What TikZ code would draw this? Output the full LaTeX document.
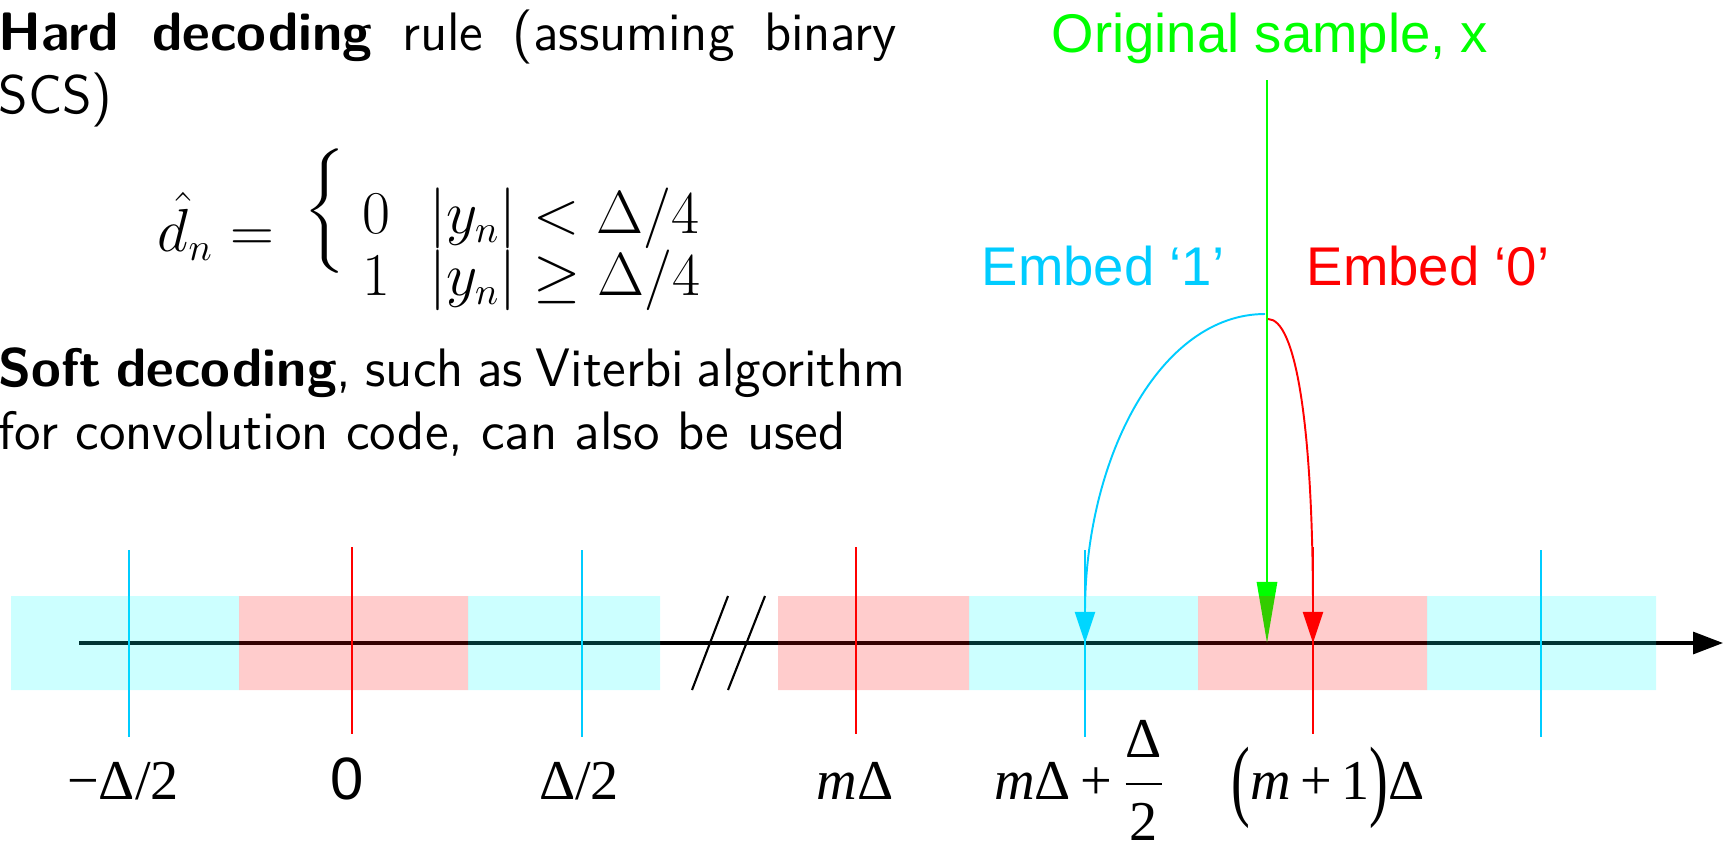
\documentclass[tikz,border=0pt]{standalone}
\usepackage{fontspec}
\usepackage{graphicx}
\usetikzlibrary{arrows.meta}
\newfontfamily\arialfont{Liberation Sans}
\newfontfamily\timesfont{Liberation Serif}
\definecolor{embedcyan}{RGB}{0,204,255}
\definecolor{samplegreen}{RGB}{0,255,0}
\definecolor{bandcyan}{RGB}{0,255,255}
\definecolor{bandred}{RGB}{255,0,0}
\newcommand{\tallparen}[1]{\raisebox{-1mm}{\scalebox{1}[1.6]{#1}}}
\newcommand{\rulebrace}{\raisebox{0.22cm}{\scalebox{1.5}[1.18]{$\left\{\vrule height 12pt depth 12pt width 0pt\right.$}}}
\tikzset{
    textblock/.style={font=\sffamily\fontsize{15.4}{18}\selectfont, text width=8.98cm,
        align=justify, inner sep=0pt, anchor=base west},
    embedlabel/.style={font=\arialfont\fontsize{15.5}{18}\selectfont, inner sep=0pt, anchor=base},
    ticklabel/.style={font=\timesfont\fontsize{16}{19}\selectfont, inner sep=0pt, anchor=base},
    cyantick/.style={embedcyan, line width=0.6pt},
    redtick/.style={red, line width=0.6pt},
    cyanband/.style={fill=bandcyan, opacity=0.2},
    redband/.style={fill=bandred, opacity=0.2},
}
\begin{document}
\begin{tikzpicture}[x=0.01cm, y=-0.01cm]
    \useasboundingbox (0,0) rectangle (1727,848);
    % decoding rules
    \node[textblock] (hard) at (-2,50)
        {\textbf{Hard decoding} rule (assuming binary\linebreak SCS)};
    \node[anchor=base west, inner sep=0pt, font=\fontsize{16}{19}\selectfont] (rule) at (157,251)
        {\renewcommand{\arraystretch}{0.8}%
        $\hat{d}_n = \hspace{3.5pt}\rulebrace\hspace{3pt}\raisebox{-4pt}{$\begin{array}{@{}l@{\hspace{11pt}}l}
            0 & \left|y_n\right| < \Delta/4 \\
            1 & \left|y_n\right| \geq \Delta/4
        \end{array}$}$};
    \node[textblock, text width=9.06cm] (soft) at (-2,386)
        {\textbf{Soft decoding}, such as Viterbi algorithm\linebreak for convolution code, can also be used};
    % axis with break
    \coordinate (start) at (79,643);
    \coordinate (end) at (1723,643);
    \draw[line width=0.9pt, -{Triangle[length=3mm,width=2.2mm]}] (start) -- (end);
    \draw[line width=0.6pt] (692,690) -- (728,596) (728,690) -- (765,596);
    % quantizer levels
    \foreach \x in {129,582,1085,1541}
        \draw[cyantick] (\x,550) -- (\x,737);
    \foreach \x in {352,856,1313}
        \draw[redtick] (\x,547) -- (\x,734);
    \node[ticklabel] (lminus) at (123,799) {−Δ/2};
    \node[ticklabel, font=\arialfont\fontsize{17}{20}\selectfont] (lzero) at (347,799) {0};
    \node[ticklabel] (lplus) at (579,799) {Δ/2};
    \node[ticklabel] (lm) at (855,799) {\itshape m\upshape Δ};
    \node[ticklabel] (lmhalf) at (1080,799)
        {\itshape m\upshape Δ\,+\,$\displaystyle\frac{\hbox{\timesfont Δ}}{\hbox{\timesfont 2}}$};
    \node[ticklabel] (lmone) at (1328,799)
        {\tallparen{(}\itshape m\upshape\,+\,1\tallparen{)}Δ};
    % original sample and the two embeddings
    \node[embedlabel, samplegreen] (orig) at (1270,52) {Original sample, x};
    \node[embedlabel, embedcyan] (embone) at (1103,285) {Embed ‘1’};
    \node[embedlabel, red] (embzero) at (1428,285) {Embed ‘0’};
    \coordinate (top) at (1267,80);
    \coordinate (x) at (1267,643);
    \coordinate (forkone) at (1265,314);
    \coordinate (forkzero) at (1268,319);
    \coordinate (one) at (1085,643);
    \coordinate (zero) at (1313,643);
    \draw[samplegreen, line width=0.8pt, -{Triangle[length=6.1mm,width=2mm]}] (top) -- (x);
    \draw[embedcyan, line width=0.55pt, -{Triangle[length=3.1mm,width=2mm]}]
        (forkone) .. controls +(-105,0) and +(0,-185) .. (one);
    \draw[red, line width=0.55pt, -{Triangle[length=3.1mm,width=2mm]}]
        (forkzero) .. controls +(27,0) and +(0,-223) .. (zero);
    % decision regions
    \fill[cyanband] (11,596) rectangle (239,690) (468,596) rectangle (660,690)
        (969,596) rectangle (1198,690) (1427,596) rectangle (1656,690);
    \fill[redband] (239,596) rectangle (468,690) (778,596) rectangle (969,690)
        (1198,596) rectangle (1427,690);
\end{tikzpicture}
\end{document}
